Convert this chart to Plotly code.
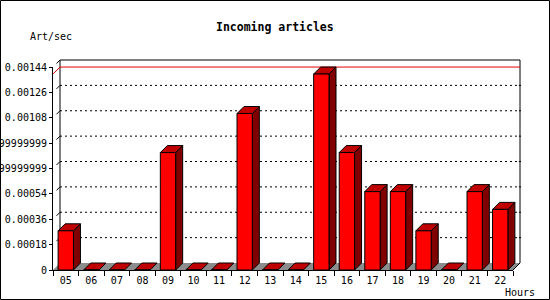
import plotly.graph_objects as go

# ---- data ----
hours = ["05", "06", "07", "08", "09", "10", "11", "12", "13", "14",
         "15", "16", "17", "18", "19", "20", "21", "22"]
art_per_sec = [0.000278, 0, 0, 0, 0.000833, 0, 0, 0.00111, 0, 0,
               0.00139, 0.000833, 0.000556, 0.000556, 0.000278, 0, 0.000556, 0.00043]
y_tickvals = [0, 0.00018, 0.00036, 0.00054, 0.00072, 0.0009, 0.00108, 0.00126, 0.00144]
y_ticktext = ["0", "0.00018", "0.00036", "0.00054", "0.000719999999999",
              "0.000899999999999", "0.00108", "0.00126", "0.00144"]
title_text = "Incoming articles"
y_title = "Art/sec"
x_title = "Hours"

# ---- geometry (pixels) ----
FW, FH = 550, 300
X0, X1 = 53, 513          # front x-axis span
Y0, Y1 = 270, 67          # front y: value 0 -> 270, ymax -> 67
YMAX = 0.00144
N = len(hours)
W = (X1 - X0) / N          # px per category
H = (Y0 - Y1) / YMAX       # px per unit value
DEPTH = 7                  # 3D depth in px
dxu = DEPTH / W
dyv = DEPTH / H
BW = 0.6                   # bar width in categories

FONT = "DejaVu Sans Mono"

fig = go.Figure()

# floor
fig.add_trace(go.Scatter(
    x=[0, N, N + dxu, dxu, 0], y=[0, 0, dyv, dyv, 0],
    mode="lines", fill="toself", fillcolor="#8c8c8c",
    line=dict(color="#8c8c8c", width=0), hoverinfo="skip", showlegend=False))

# back wall gridlines (dotted)
gx, gy = [], []
for t in y_tickvals[1:-1]:
    gx += [dxu, N + dxu, None]
    gy += [t + dyv, t + dyv, None]
fig.add_trace(go.Scatter(x=gx, y=gy, mode="lines",
                         line=dict(color="black", width=1, dash="2px,3px"),
                         hoverinfo="skip", showlegend=False))

# small 3D tick marks on left wall and right wall
tx, ty = [], []
for t in y_tickvals[1:]:
    tx += [dxu * 0.5, dxu, None]
    ty += [t + dyv * 0.5, t + dyv, None]
for t in y_tickvals[1:-1]:
    tx += [N + dxu * 0.85, N + dxu * 1.15, None]
    ty += [t + dyv, t + dyv, None]
fig.add_trace(go.Scatter(x=tx, y=ty, mode="lines",
                         line=dict(color="black", width=1),
                         hoverinfo="skip", showlegend=False))

# back wall frame (left, top, right) + right floor edge
fig.add_trace(go.Scatter(
    x=[dxu, dxu, N + dxu, N + dxu, N],
    y=[dyv, YMAX + dyv, YMAX + dyv, dyv, 0],
    mode="lines", line=dict(color="black", width=1),
    hoverinfo="skip", showlegend=False))

# max line
vmax = max(art_per_sec)
fig.add_trace(go.Scatter(
    x=[0, dxu, N + dxu], y=[vmax, vmax + dyv, vmax + dyv],
    mode="lines", line=dict(color="#e00000", width=1),
    hoverinfo="skip", showlegend=False))

# bar side faces and top faces
sx, sy, topx, topy = [], [], [], []
for k, h in enumerate(art_per_sec):
    c = k + 0.5
    l, r = c - BW / 2, c + BW / 2
    if h > 0:
        sx += [r, r + dxu, r + dxu, r, r, None]
        sy += [0, dyv, h + dyv, h, 0, None]
    topx += [l, r, r + dxu, l + dxu, l, None]
    topy += [h, h, h + dyv, h + dyv, h, None]
fig.add_trace(go.Scatter(x=sx, y=sy, mode="lines", fill="toself",
                         fillcolor="#800000", line=dict(color="black", width=1),
                         hoverinfo="skip", showlegend=False))
fig.add_trace(go.Scatter(x=topx, y=topy, mode="lines", fill="toself",
                         fillcolor="#c00000", line=dict(color="black", width=1),
                         hoverinfo="skip", showlegend=False))

# bar front faces on the visible axes
fig.add_trace(go.Bar(
    x=[k + 0.5 for k in range(N)], y=art_per_sec, width=BW,
    marker=dict(color="#ff0000", line=dict(color="black", width=1)),
    xaxis="x2", yaxis="y2", showlegend=False, hoverinfo="skip"))

fig.update_layout(
    width=FW, height=FH, autosize=False,
    margin=dict(l=0, r=0, t=0, b=0, pad=0),
    paper_bgcolor="white", plot_bgcolor="rgba(0,0,0,0)",
    template="none",
    showlegend=False,
    font=dict(family=FONT, size=10, color="black"),
    xaxis=dict(domain=[0, 1], range=[-X0 / W, (FW - X0) / W], visible=False,
               fixedrange=True, anchor="y"),
    yaxis=dict(domain=[0, 1], range=[-(FH - Y0) / H, Y0 / H], visible=False,
               fixedrange=True, anchor="x"),
    xaxis2=dict(domain=[X0 / FW, X1 / FW], range=[0, N], anchor="y2",
                showgrid=False, zeroline=False,
                showline=True, linecolor="black", linewidth=1,
                tickmode="array", tickvals=[k + 0.5 for k in range(N)],
                ticktext=hours, ticks="", ticklabelstandoff=1,
                minor=dict(tickmode="linear", tick0=0, dtick=1, ticks="outside",
                           ticklen=5, tickcolor="black", tickwidth=1, showgrid=False),
                tickfont=dict(family=FONT, size=10), fixedrange=True,
                automargin=False),
    yaxis2=dict(domain=[(FH - Y0) / FH, (FH - Y1) / FH], range=[0, YMAX],
                anchor="x2", showgrid=False, zeroline=False,
                showline=True, linecolor="black", linewidth=1,
                tickmode="array", tickvals=y_tickvals, ticktext=y_ticktext,
                ticks="outside", ticklen=3, tickcolor="black", tickwidth=1,
                tickfont=dict(family=FONT, size=10), fixedrange=True,
                automargin=False),
    annotations=[
        dict(text=title_text, x=0.5, y=(FH - 27) / FH, xref="paper", yref="paper",
             showarrow=False, xanchor="center", yanchor="middle",
             font=dict(family=FONT, size=11.5, weight="bold")),
        dict(text=y_title, x=50.5 / FW, y=(FH - 37) / FH, xref="paper", yref="paper",
             showarrow=False, xanchor="center", yanchor="middle",
             font=dict(family=FONT, size=10)),
        dict(text=x_title, x=519.5 / FW, y=(FH - 292) / FH, xref="paper", yref="paper",
             showarrow=False, xanchor="center", yanchor="middle",
             font=dict(family=FONT, size=10)),
    ],
    shapes=[dict(type="rect", xref="paper", yref="paper",
                 x0=0.5 / FW, y0=0.5 / FH, x1=1 - 0.5 / FW, y1=1 - 0.5 / FH,
                 line=dict(color="black", width=1), layer="above")],
)

fig.write_html("out.html")
